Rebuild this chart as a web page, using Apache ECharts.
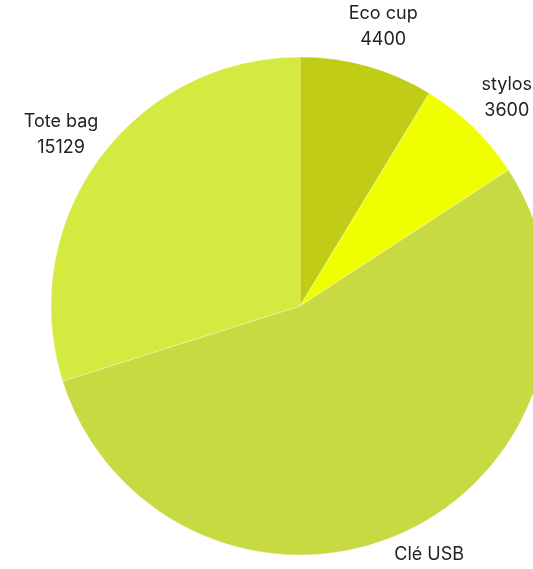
<!DOCTYPE html>
<html>
<head>
<meta charset="utf-8">
<script src="https://cdn.jsdelivr.net/npm/echarts@6/dist/echarts.min.js"></script>
<style>
  html, body { margin: 0; padding: 0; background: #fff; }
  #chart { width: 533px; height: 569px; }
</style>
</head>
<body>
<div id="chart"></div>
<script>
// données
var categories = ['Eco cup', 'stylos', 'Clé USB', 'Tote bag'];
var values = [4400, 3600, 27500, 15129];
var colors = ['#c0cc16', '#f0ff00', '#c8da42', '#d4ea40'];

var myChart = echarts.init(document.getElementById('chart'));

var data = categories.map(function (name, i) {
  return { name: name, value: values[i], itemStyle: { color: colors[i] } };
});

myChart.setOption({
  animation: false,
  series: [{
    type: 'pie',
    center: [300, 306],
    radius: 249,
    startAngle: 90,
    clockwise: true,
    avoidLabelOverlap: false,
    itemStyle: { borderColor: '#fff', borderWidth: 0.3 },
    label: {
      show: true,
      position: 'outside',
      formatter: '{b}\n{c}',
      color: '#222',
      fontFamily: 'Inter',
      fontSize: 18,
      lineHeight: 26
    },
    labelLine: { show: false, length: 41, length2: 0 },
    // centrer le texte sur le bout de la ligne
    labelLayout: function () {
      return { align: 'center', verticalAlign: 'middle' };
    },
    emphasis: { disabled: true },
    data: data
  }]
});
</script>
</body>
</html>
